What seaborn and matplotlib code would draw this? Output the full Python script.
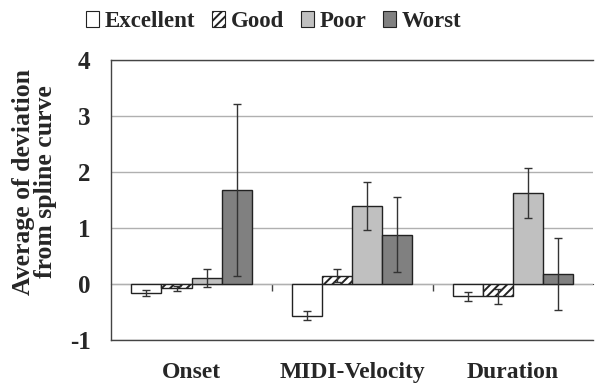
import numpy as np
import pandas as pd
import seaborn as sns
import matplotlib.pyplot as plt

# ===== DATA =====
features = ["Onset", "MIDI-Velocity", "Duration"]
groups = ["Excellent", "Good", "Poor", "Worst"]

excellent_mean = [-0.16, -0.57, -0.22]
good_mean = [-0.08, 0.15, -0.22]
poor_mean = [0.10, 1.40, 1.63]
worst_mean = [1.68, 0.88, 0.18]

excellent_err = [0.06, 0.08, 0.08]
good_err = [0.05, 0.12, 0.13]
poor_err = [0.16, 0.43, 0.45]
worst_err = [1.54, 0.67, 0.65]

yticks = [-1, 0, 1, 2, 3, 4]
ylabel = "Average of deviation\nfrom spline curve"

colors = ["#ffffff", "#ffffff", "#c0c0c0", "#808080"]

means = [excellent_mean, good_mean, poor_mean, worst_mean]
errs = [excellent_err, good_err, poor_err, worst_err]

df = pd.DataFrame({
    "feature": np.tile(features, len(groups)),
    "group": np.repeat(groups, len(features)),
    "value": np.concatenate(means),
})

# ===== PLOT =====
sns.set_style("white")
plt.rcParams["font.family"] = ["Liberation Serif", "DejaVu Serif"]
plt.rcParams["font.weight"] = "bold"
plt.rcParams["hatch.linewidth"] = 1.4
plt.rcParams["axes.unicode_minus"] = False

fig = plt.figure(figsize=(5.95, 3.85), dpi=100)
ax = fig.add_axes([0.187, 0.117, 0.810, 0.727])

sns.barplot(data=df, x="feature", y="value", hue="group", order=features,
            hue_order=groups, palette=colors, width=0.75, gap=0,
            edgecolor="#222222", linewidth=1.0, errorbar=None, ax=ax,
            legend=False, zorder=3)

bar_conts = list(ax.containers)
for i, cont in enumerate(bar_conts):
    xs = [p.get_x() + p.get_width() / 2 for p in cont.patches]
    hs = [p.get_height() for p in cont.patches]
    ax.errorbar(xs, hs, yerr=errs[i], fmt="none", ecolor="#333333",
                elinewidth=1.0, capsize=3, capthick=1.0, zorder=4)
    if groups[i] == "Good":
        for p in cont.patches:
            p.set_hatch("////")

ax.set_ylim(-1, 4)
ax.set_xlim(-0.5, 2.5)
ax.set_yticks(yticks)
ax.set_yticklabels([str(t) for t in yticks], fontsize=18, fontweight="bold")
ax.yaxis.grid(True, color="#b0b0b0", linewidth=1.0, zorder=0)
ax.set_axisbelow(True)

ax.set_xlabel("")
ax.set_ylabel(ylabel, fontsize=18.5, fontweight="bold", linespacing=0.95)
ax.yaxis.set_label_coords(-0.112, 0.565)
ax.tick_params(axis="y", direction="out", length=5, width=1, color="#444444", pad=10)
ax.tick_params(axis="x", length=0, labelsize=17, pad=16)
for lab in ax.get_xticklabels():
    lab.set_fontweight("bold")

for side in ["top", "bottom", "left"]:
    ax.spines[side].set_color("#444444")
    ax.spines[side].set_linewidth(1.0)
ax.spines["right"].set_visible(False)

# zero line with category boundary ticks
zero = ax.secondary_xaxis(0.2)
zero.set_xticks([0.5, 1.5])
zero.set_xticklabels(["", ""])
zero.tick_params(direction="out", length=5, width=1, color="#444444")
zero.spines["bottom"].set_color("#444444")

# legend
handles = [plt.Rectangle((0, 0), 1, 1, facecolor=c, edgecolor="#222222",
                         linewidth=0.8) for c in colors]
handles[1].set_hatch("////")
fig.legend(handles, groups, loc="upper center", bbox_to_anchor=(0.46, 1.025),
           ncol=4, frameon=False, handlelength=0.55,
           handleheight=0.65, handletextpad=0.25, columnspacing=0.75,
           prop={"weight": "bold", "size": 16.5})

fig.savefig("out.png", dpi=100)
